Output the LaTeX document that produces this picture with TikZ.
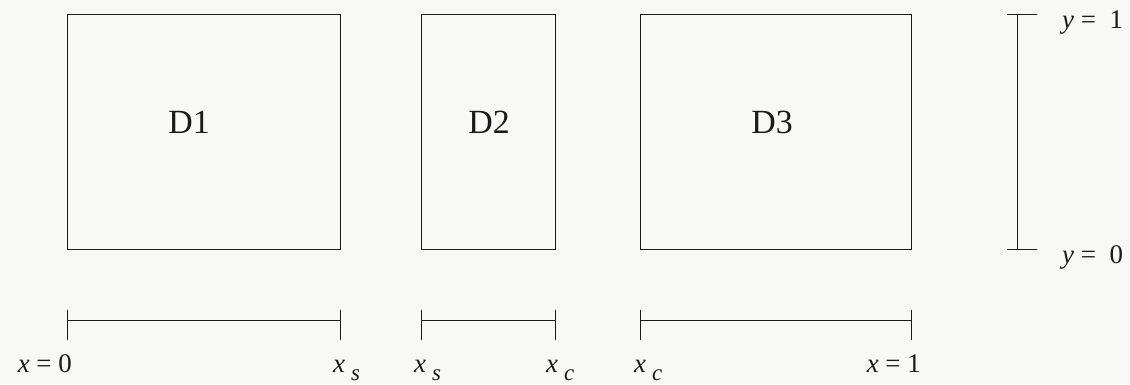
\documentclass[tikz,border=0pt]{standalone}
\usepackage{fontspec}
\setmainfont{Liberation Serif}
\usetikzlibrary{positioning,calc}
\definecolor{papel}{HTML}{F8F8F6}
\definecolor{tinta}{HTML}{1A1A1A}
\newcommand{\subind}[2]{\textit{#1}\hspace{0.22em}\raisebox{-0.3em}{\fontsize{23}{27}\selectfont\textit{#2}}}
\tikzset{
  dominio/.style={draw=tinta,line width=1bp,minimum height=234bp,inner sep=0pt,outer sep=0pt},
  nombre/.style={font=\fontsize{34}{39}\selectfont,inner sep=0pt,text=tinta},
  cota/.style={font=\fontsize{27}{32}\selectfont,inner sep=0pt,text=tinta},
  regla/.style={draw=tinta,line width=1bp},
}
\begin{document}
\begin{tikzpicture}[x=1bp,y=1bp]
  \fill[papel] (0,0) rectangle (1130,384);
  \useasboundingbox (0,0) rectangle (1130,384);
  \node[dominio,minimum width=272bp] (d1) at (204,252) {};
  \node[dominio,minimum width=134bp,right=81bp of d1] (d2) {};
  \node[dominio,minimum width=271bp,right=85bp of d2] (d3) {};
  \node[nombre,anchor=base] (n1) at (189,250.7) {D1};
  \node[nombre,anchor=base] (n2) at (489,250.7) {D2};
  \node[nombre,anchor=base] (n3) at (772,250.7) {D3};
  \coordinate (base) at (0,63.5);
  \coordinate (vbar) at (1017,0);
  \foreach \d in {d1,d2,d3} {
    \draw[regla] (\d.south west |- base) -- (\d.south east |- base);
    \draw[regla] (\d.south west |- base) ++(0,10.5) -- ++(0,-29.5);
    \draw[regla] (\d.south east |- base) ++(0,10.5) -- ++(0,-29.5);
  }
  \draw[regla] (vbar |- d3.north) -- (vbar |- d3.south);
  \draw[regla] (vbar |- d3.north) ++(-10.5,0) -- ++(30.5,0);
  \draw[regla] (vbar |- d3.south) ++(-10.5,0) -- ++(30.5,0);
  \node[cota,anchor=base east] (x0) at (72,12) {\textit{x} = 0};
  \node[cota,anchor=base west] (xs1) at (333,12) {\subind{x}{s}};
  \node[cota,anchor=base west] (xs2) at (414,12) {\subind{x}{s}};
  \node[cota,anchor=base west] (xc1) at (546,12) {\subind{x}{c}};
  \node[cota,anchor=base west] (xc2) at (634,12) {\subind{x}{c}};
  \node[cota,anchor=base east] (x1) at (921,12) {\textit{x} = 1};
  \node[cota,anchor=base west] (y1) at (1062,356) {\textit{y} =\ \ 1};
  \node[cota,anchor=base west] (y0) at (1062,121) {\textit{y} =\ \ 0};
\end{tikzpicture}
\end{document}
